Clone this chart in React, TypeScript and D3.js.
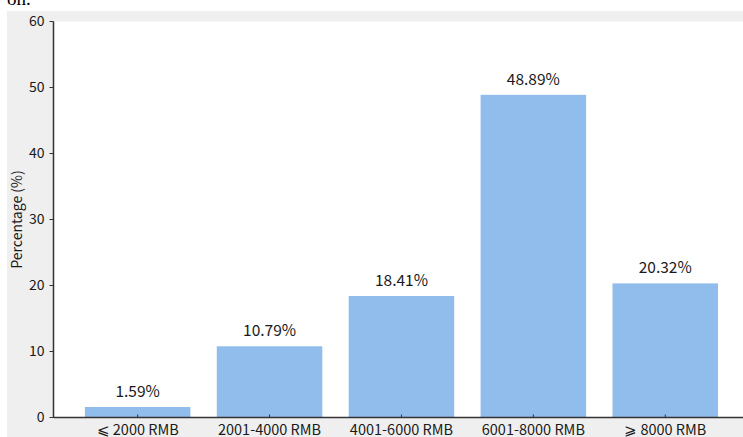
import React from "react";
import * as d3 from "d3";

const categories = ["⩽ 2000 RMB", "2001-4000 RMB", "4001-6000 RMB", "6001-8000 RMB", "⩾ 8000 RMB"];
const values = [1.59, 10.79, 18.41, 48.89, 20.32];
const yTicks = [0, 10, 20, 30, 40, 50, 60];

const W = 743;
const H = 437;
const FONT = "'Noto Sans CJK SC', 'Noto Sans', sans-serif";

export default function App() {
  const y = d3.scaleLinear().domain([0, 60]).range([417.5, 21.5]);
  const x = d3
    .scaleBand<string>()
    .domain(categories)
    .range([71.7, 731.2])
    .paddingInner(0.2)
    .paddingOuter(0.1);
  const axisX = 53.5;
  const axisY = y(0);

  return (
    <svg
      width={W}
      height={H}
      style={{ position: "absolute", left: 0, top: 0, background: "#fff" }}
      fontFamily={FONT}
    >
      <text x={7} y={5} fontFamily="'Liberation Serif', 'DejaVu Serif', serif" fontSize={19} fill="#000">
        on.
      </text>
      <rect x={7} y={11} width={W - 7} height={H - 11} fill="#efefef" />
      <rect x={axisX} y={21.5} width={W - axisX} height={axisY - 21.5} fill="#fff" />

      {categories.map((c, i) => (
        <rect
          key={c}
          x={x(c)}
          y={y(values[i])}
          width={x.bandwidth()}
          height={axisY - y(values[i])}
          fill="#91bdec"
        />
      ))}
      {categories.map((c, i) => (
        <text
          key={"v" + c}
          x={(x(c) as number) + x.bandwidth() / 2}
          y={y(values[i]) - 10}
          textAnchor="middle"
          fontSize={15.5}
          fill="#1a1a1a"
        >
          {values[i].toFixed(2)}%
        </text>
      ))}

      <line x1={axisX} x2={axisX} y1={21.5} y2={axisY} stroke="#333" strokeWidth={1.5} />
      <line x1={axisX} x2={W} y1={axisY} y2={axisY} stroke="#333" strokeWidth={1.5} />

      {yTicks.map((t) => (
        <g key={"t" + t}>
          <line x1={axisX - 4} x2={axisX} y1={y(t)} y2={y(t)} stroke="#333" strokeWidth={1} />
          <text x={axisX - 9} y={y(t)} dy="0.35em" textAnchor="end" fontSize={14} fill="#1a1a1a">
            {t}
          </text>
        </g>
      ))}

      {categories.map((c) => {
        const cx = (x(c) as number) + x.bandwidth() / 2;
        return (
          <g key={"c" + c}>
            <line x1={cx} x2={cx} y1={axisY - 3} y2={axisY} stroke="#333" strokeWidth={1} />
            <text x={cx} y={434.5} textAnchor="middle" fontSize={14.5} fill="#1a1a1a">
              {c}
            </text>
          </g>
        );
      })}

      <text
        transform={`translate(21.5, ${(21.5 + axisY) / 2}) rotate(-90)`}
        textAnchor="middle"
        fontSize={14}
        fill="#1a1a1a"
      >
        Percentage (%)
      </text>
    </svg>
  );
}
